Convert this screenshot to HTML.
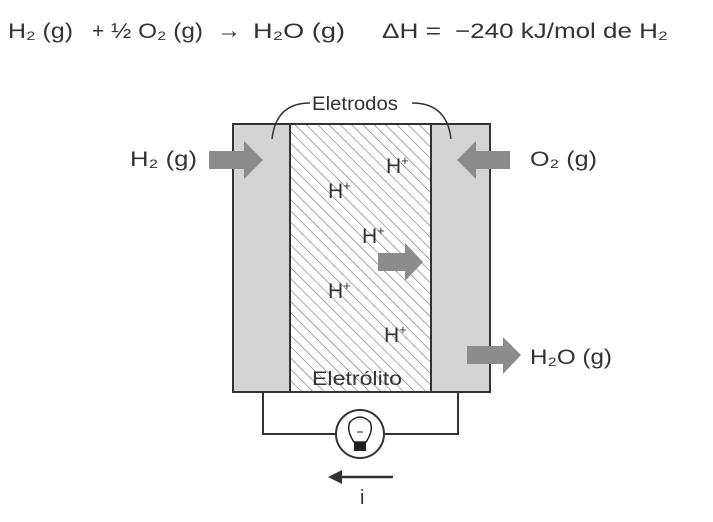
<!DOCTYPE html>
<html><head><style>body{margin:0;background:#fff}svg text{font-family:"Liberation Sans",sans-serif;fill:#333}</style></head>
<body>
<svg width="713" height="517" viewBox="0 0 713 517" xmlns="http://www.w3.org/2000/svg">
<defs>
<pattern id="h" width="8" height="8" patternUnits="userSpaceOnUse" patternTransform="rotate(-45)">
<rect width="8" height="8" fill="#fff"/><line x1="0" y1="0" x2="0" y2="8" stroke="#777" stroke-width="1.3"/>
</pattern>
</defs>
<g font-size="21">
<text x="8" y="38" textLength="65" lengthAdjust="spacingAndGlyphs">H₂ (g)</text>
<text x="92" y="38">+</text>
<text x="111" y="38" textLength="92" lengthAdjust="spacingAndGlyphs">½ O₂ (g)</text>
<text x="217" y="38" font-size="24">→</text>
<text x="253" y="38" textLength="92" lengthAdjust="spacingAndGlyphs">H₂O (g)</text>
<text x="382" y="38" textLength="59" lengthAdjust="spacingAndGlyphs">ΔH =</text>
<text x="455" y="38" textLength="213" lengthAdjust="spacingAndGlyphs">−240 kJ/mol de H₂</text>
</g>
<rect x="233" y="124" width="257" height="268" fill="#d4d4d4" stroke="#333" stroke-width="2"/>
<rect x="290" y="124" width="141" height="268" fill="url(#h)" stroke="#333" stroke-width="2"/>
<path d="M272 139 Q276 103 310 103" fill="none" stroke="#333" stroke-width="1.5"/>
<path d="M451 139 Q447 103 412 103" fill="none" stroke="#333" stroke-width="1.5"/>
<text x="312" y="110" font-size="19" textLength="86" lengthAdjust="spacingAndGlyphs">Eletrodos</text>
<g fill="#8c8c8c">
<polygon points="209,151 244,151 244,141 263,160 244,179 244,169 209,169"/>
<polygon points="510,151 476,151 476,141 457,160 476,179 476,169 510,169"/>
<polygon points="378,253 405,253 405,243 423,262 405,281 405,271 378,271"/>
<polygon points="467,346 503,346 503,337 521,355 503,374 503,364 467,364"/>
</g>
<text x="130" y="166" font-size="21" textLength="67" lengthAdjust="spacingAndGlyphs">H₂ (g)</text>
<text x="530" y="166" font-size="21" textLength="67" lengthAdjust="spacingAndGlyphs">O₂ (g)</text>
<text x="530" y="364" font-size="21" textLength="82" lengthAdjust="spacingAndGlyphs">H₂O (g)</text>
<g font-size="21">
<text x="386" y="173">H<tspan font-size="13" dy="-8">+</tspan></text>
<text x="328" y="198">H<tspan font-size="13" dy="-8">+</tspan></text>
<text x="362" y="243">H<tspan font-size="13" dy="-8">+</tspan></text>
<text x="328" y="298">H<tspan font-size="13" dy="-8">+</tspan></text>
<text x="384" y="342">H<tspan font-size="13" dy="-8">+</tspan></text>
</g>
<text x="312" y="385" font-size="19" textLength="90" lengthAdjust="spacingAndGlyphs">Eletrólito</text>
<path d="M263 392 V434 H336 M384 434 H458 V392" fill="none" stroke="#333" stroke-width="2"/>
<circle cx="360" cy="434" r="24" fill="#fff" stroke="#333" stroke-width="2"/>
<path d="M354 442 Q346 430 350 422 Q360 412 370 422 Q374 430 366 442 Z" fill="#fff" stroke="#222" stroke-width="1.5"/>
<rect x="354" y="442" width="12" height="9" fill="#222"/>
<line x1="357" y1="432" x2="363" y2="432" stroke="#222"/>
<line x1="393" y1="477" x2="340" y2="477" stroke="#333" stroke-width="2.5"/>
<polygon points="328,477 342,470 342,484" fill="#333"/>
<text x="360" y="504" font-size="20">i</text>
</svg>
</body></html>
